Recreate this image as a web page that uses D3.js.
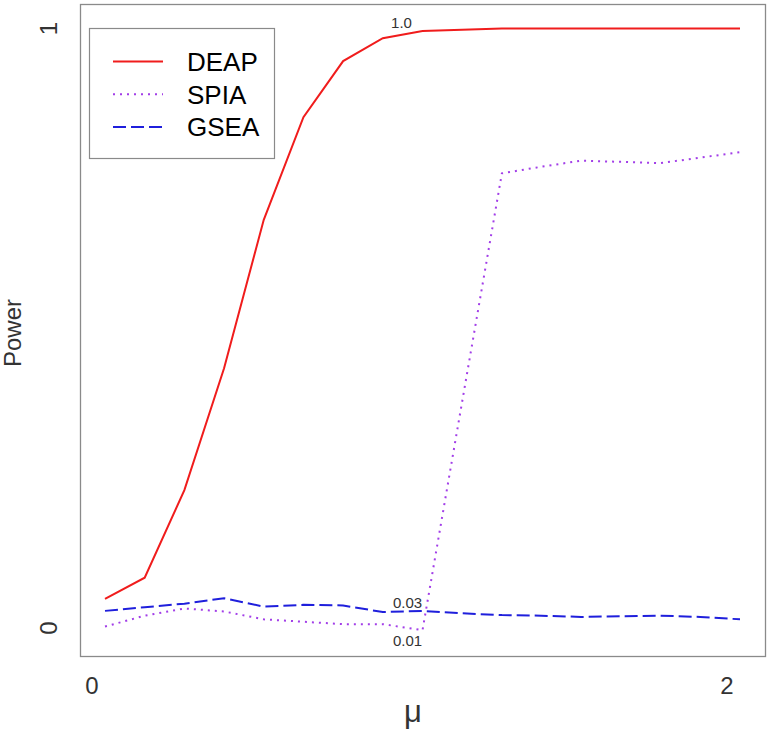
<!DOCTYPE html>
<html>
<head>
<meta charset="utf-8">
<script src="https://cdn.jsdelivr.net/npm/d3@7"></script>
<style>
  body { margin: 0; background: #fff; }
  text { font-family: "Liberation Sans", Arial, sans-serif; }
</style>
</head>
<body>
<script>
var w = 770;
var h = 729;

// mu values, one per simulation setting
var mu = [0, 0.125, 0.25, 0.375, 0.5, 0.625, 0.75, 0.875, 1.0, 1.125, 1.25, 1.375, 1.5, 1.625, 1.75, 1.875, 2.0];

// power per method
var deap = [0.055, 0.090, 0.235, 0.437, 0.683, 0.853, 0.946, 0.984, 0.996, 0.998, 1.0, 1.0, 1.0, 1.0, 1.0, 1.0, 1.0];
var spia = [0.009, 0.027, 0.039, 0.034, 0.021, 0.017, 0.013, 0.013, 0.003, 0.382, 0.760, 0.771, 0.781, 0.779, 0.777, 0.786, 0.795];
var gsea = [0.035, 0.041, 0.047, 0.056, 0.042, 0.045, 0.044, 0.033, 0.035, 0.031, 0.028, 0.027, 0.025, 0.026, 0.027, 0.025, 0.021];

var methods = ["DEAP", "SPIA", "GSEA"];
var xTicks = [0, 2];
var yTicks = [0, 1];

// labels written next to the curves: [series index, point index, text]
var notes = [[0, 8, "1.0"], [2, 8, "0.03"], [1, 8, "0.01"]];

var series = [deap, spia, gsea];
var colors = ["#f01c1c", "#a23ee8", "#1f1fdc"];
var dashes = [null, "2,5", "13,5"];

var svg = d3.select("body").append("svg").attr("width", w).attr("height", h);

var x = d3.scaleLinear().domain([0, 2]).range([105, 740]);
var y = d3.scaleLinear().domain([0, 1]).range([632, 28.5]);

// plot frame
svg.append("rect")
  .attr("x", 80.5).attr("y", 4.5)
  .attr("width", 685).attr("height", 652)
  .attr("fill", "none").attr("stroke", "#8a8a8a").attr("stroke-width", 1.3);

var line = d3.line()
  .x(function(d, i) { return x(mu[i]); })
  .y(function(d) { return y(d); });

series.forEach(function(s, k) {
  svg.append("path")
    .datum(s)
    .attr("d", line)
    .attr("fill", "none")
    .attr("stroke", colors[k])
    .attr("stroke-width", 2)
    .attr("stroke-dasharray", dashes[k]);
});

// value notes
svg.selectAll(".note")
  .data(notes)
  .enter().append("text")
  .attr("class", "note")
  .attr("x", function(d) { return x(mu[d[1]]) - (d[0] == 0 ? 21 : 15); })
  .attr("y", function(d) { return y(series[d[0]][d[1]]) + (d[0] == 1 ? 16 : -3); })
  .attr("text-anchor", "middle")
  .attr("font-size", 15)
  .attr("fill", "#333")
  .text(function(d) { return d[2]; });

// x ticks (labels sit a bit left of the data grid in the original)
svg.selectAll(".xtick")
  .data(xTicks)
  .enter().append("text")
  .attr("class", "xtick")
  .attr("x", function(d) { return x(d) - 13; })
  .attr("y", 694)
  .attr("text-anchor", "middle")
  .attr("font-size", 24)
  .attr("fill", "#333")
  .text(function(d) { return d; });

svg.selectAll(".ytick")
  .data(yTicks)
  .enter().append("text")
  .attr("class", "ytick")
  .attr("transform", function(d) { return "translate(57," + (y(d) + (d == 0 ? -4 : 0)) + ") rotate(-90)"; })
  .attr("text-anchor", "middle")
  .attr("font-size", 24)
  .attr("fill", "#333")
  .text(function(d) { return d; });

svg.append("text")
  .attr("x", 413).attr("y", 722)
  .attr("text-anchor", "middle")
  .attr("font-size", 31)
  .attr("fill", "#333")
  .text("μ");

svg.append("text")
  .attr("transform", "translate(21,333) rotate(-90)")
  .attr("text-anchor", "middle")
  .attr("font-size", 24)
  .attr("fill", "#333")
  .text("Power");

// legend
var legend = svg.append("g");
legend.append("rect")
  .attr("x", 89.5).attr("y", 28.5)
  .attr("width", 185).attr("height", 130)
  .attr("fill", "#fff").attr("stroke", "#8a8a8a").attr("stroke-width", 1.2);

var rows = legend.selectAll(".row")
  .data(methods)
  .enter().append("g")
  .attr("class", "row")
  .attr("transform", function(d, i) { return "translate(0," + (61.5 + i * 32.7) + ")"; });

rows.append("line")
  .attr("x1", 113).attr("x2", 163)
  .attr("y1", 0).attr("y2", 0)
  .attr("stroke", function(d, i) { return colors[i]; })
  .attr("stroke-width", 2)
  .attr("stroke-dasharray", function(d, i) { return dashes[i]; });

rows.append("text")
  .attr("x", 187).attr("y", 9.5)
  .attr("font-size", 26)
  .attr("fill", "#000")
  .text(function(d) { return d; });
</script>
</body>
</html>
